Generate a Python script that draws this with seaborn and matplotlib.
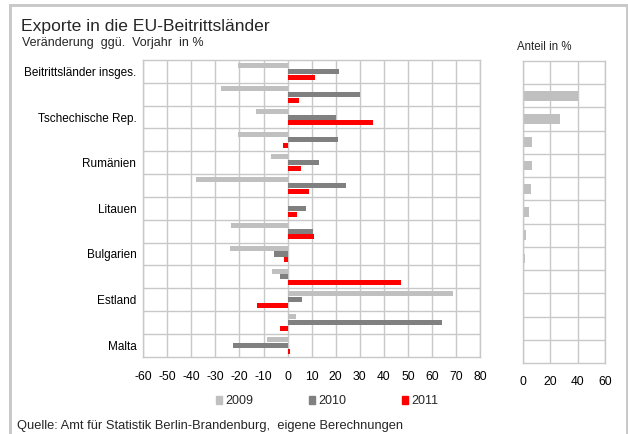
import numpy as np
import pandas as pd
import matplotlib
matplotlib.use('Agg')
import matplotlib.pyplot as plt
import matplotlib.patches as mpatches
import seaborn as sns

# Data
countries = ['Beitrittsländer insges.', 'Polen', 'Tschechische Rep.', 'Ungarn', 'Rumänien',
             'Slowakei', 'Litauen', 'Slowenien', 'Bulgarien', 'Lettland', 'Estland',
             'Zypern', 'Malta']
shown_labels = ['Beitrittsländer insges.', '', 'Tschechische Rep.', '', 'Rumänien', '',
                'Litauen', '', 'Bulgarien', '', 'Estland', '', 'Malta']
years = ['2009', '2010', '2011']
change_2009 = [-20.8, -27.9, -13.0, -20.8, -7.1, -38.1, 0.0, -23.4, -24.1, -6.6, 68.6, 3.3, -8.4]
change_2010 = [21.5, 30.1, 20.1, 20.8, 13.0, 24.4, 7.8, 10.7, -5.5, -3.3, 6.1, 64.2, -22.6]
change_2011 = [11.4, 4.7, 35.6, -1.8, 5.6, 8.9, 4.0, 11.1, -1.4, 47.1, -12.6, -3.3, 1.0]
share = [0.0, 40.0, 27.3, 6.8, 6.8, 6.0, 4.8, 2.4, 1.7, 1.0, 1.0, 0.5, 0.3]

year_colors = ['#c0c0c0', '#808080', '#ff0000']
grid_col = '#c8c8c8'

df = pd.DataFrame({'Land': countries, '2009': change_2009, '2010': change_2010, '2011': change_2011})
df_long = df.melt(id_vars='Land', var_name='Jahr', value_name='Wert')
df_share = pd.DataFrame({'Land': countries, 'Anteil': share})

sns.set_style('white')
plt.rcParams['font.family'] = ['Liberation Sans', 'DejaVu Sans']
plt.rcParams['axes.unicode_minus'] = False

W, H = 628, 434
fig = plt.figure(figsize=(W / 100, H / 100), dpi=100)

def px_axes(x0, y0, x1, y1):
    return fig.add_axes([x0 / W, 1 - y1 / H, (x1 - x0) / W, (y1 - y0) / H])

ax = px_axes(143.3, 60, 480, 356.7)
ax2 = px_axes(522.7, 60.7, 605.3, 363.3)

sns.barplot(data=df_long, y='Land', x='Wert', hue='Jahr', hue_order=years, order=countries,
            palette=year_colors, saturation=1, orient='h', width=0.76, gap=0.13, linewidth=0,
            legend=False, ax=ax)
sns.barplot(data=df_share, y='Land', x='Anteil', order=countries, color='#c0c0c0',
            saturation=1, orient='h', width=0.42, linewidth=0, ax=ax2)

n = len(countries)
for a in (ax, ax2):
    a.set_ylim(n - 0.5, -0.5)
    a.set_yticks(np.arange(n - 1) + 0.5, minor=True)
    a.grid(False)
    a.grid(True, which='minor', axis='y', color=grid_col, lw=1)
    a.grid(True, which='major', axis='x', color=grid_col, lw=1)
    a.set_axisbelow(True)
    a.set_xlabel('')
    a.set_ylabel('')
    for s in a.spines.values():
        s.set_color(grid_col)
        s.set_linewidth(1)
    a.tick_params(which='both', length=0, labelsize=8.7, colors='black')

ax.set_xlim(-60, 80)
ax.set_xticks(np.arange(-60, 81, 10))
ax.tick_params(axis='x', pad=10)
ax.set_yticks(np.arange(n))
ax.set_yticklabels(shown_labels, fontsize=8.5)
ax.tick_params(axis='y', pad=5)

ax2.set_xlim(0, 60)
ax2.set_xticks([0, 20, 40, 60])
ax2.tick_params(axis='x', pad=9)
ax2.set_yticks([])

# texts
fig.text(21 / W, 1 - 30.7 / H, 'Exporte in die EU-Beitrittsländer', fontsize=12.6, va='baseline')
fig.text(21.7 / W, 1 - 46 / H, 'Veränderung  ggü.  Vorjahr  in %', fontsize=9, va='baseline')
fig.text(517 / W, 1 - 50.5 / H, 'Anteil in %', fontsize=8.3, va='baseline')
fig.text(16.7 / W, 1 - 429.5 / H, 'Quelle: Amt für Statistik Berlin-Brandenburg,  eigene Berechnungen',
         fontsize=9.3, va='baseline')

# legend
handles = [mpatches.Patch(color=c, label=y) for c, y in zip(year_colors, years)]
fig.legend(handles=handles, loc='center left', bbox_to_anchor=(215.5 / W, 1 - 401 / H), ncol=3,
           frameon=False, fontsize=9, handlelength=0.55, handleheight=0.6,
           handletextpad=0.25, columnspacing=4.4, borderaxespad=0, borderpad=0)

# outer frame
frame = mpatches.Rectangle((9.5 / W, -0.05), (626.7 - 9.5) / W, 1.05 - 5.3 / H,
                           transform=fig.transFigure, fill=False, edgecolor=grid_col,
                           lw=2.1, clip_on=False)
fig.patches.append(frame)

fig.savefig('out.png', dpi=100)
